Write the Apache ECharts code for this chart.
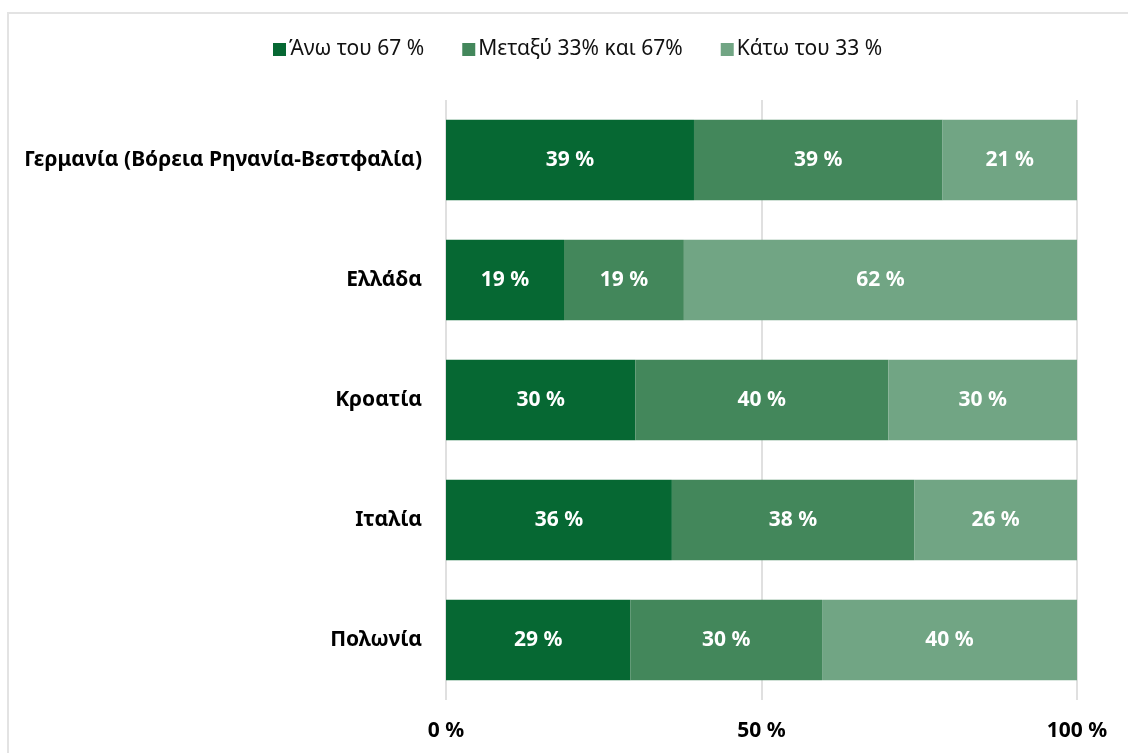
<!DOCTYPE html>
<html>
<head>
<meta charset="utf-8">
<script src="https://cdn.jsdelivr.net/npm/echarts@6/dist/echarts.min.js"></script>
<style>
  html, body { margin: 0; padding: 0; background: #fff; overflow: hidden; }
  .frame {
    position: absolute; left: 7px; top: 12px; width: 1200px; height: 800px;
    border: 2px solid #e3e3e3; box-sizing: border-box;
  }
  #chart { position: absolute; left: 0; top: 0; width: 1128px; height: 753px; }
</style>
</head>
<body>
<div class="frame"></div>
<div id="chart"></div>
<script>
// 国家 / 地区
const categories = ['Γερμανία (Βόρεια Ρηνανία-Βεστφαλία)', 'Ελλάδα', 'Κροατία', 'Ιταλία', 'Πολωνία']
const seriesNames = ['Άνω του 67 %', 'Μεταξύ 33% και 67%', 'Κάτω του 33 %']
const above67 = [39.3, 18.7, 30.0, 35.8, 29.2]
const between = [39.4, 19.0, 40.1, 38.4, 30.4]
const below33 = [21.3, 62.3, 29.9, 25.8, 40.4]
const colors = ['#066833', '#43875b', '#71a584']

const font = '"Noto Sans", "Open Sans", sans-serif'

const makeSeries = (name, data, color) => ({
  name: name,
  type: 'bar',
  stack: 'total',
  barCategoryGap: '33%',
  itemStyle: { color: color },
  label: {
    show: true,
    position: 'inside',
    color: '#fff',
    fontFamily: font,
    fontWeight: 'bold',
    fontSize: 21,
    formatter: (p) => Math.round(p.value) + ' %'
  },
  data: data
})

const chart = echarts.init(document.getElementById('chart'))
chart.setOption({
  backgroundColor: 'transparent',
  animation: false,
  color: colors,
  legend: {
    top: 34,
    left: 268,
    itemWidth: 13,
    itemHeight: 13,
    itemGap: 38,
    icon: 'rect',
    textStyle: { fontFamily: font, fontSize: 21, color: '#111', padding: [0, 0, 0, -2] },
    data: seriesNames
  },
  grid: { left: 446, right: 51, top: 100, bottom: 53 },
  xAxis: {
    type: 'value',
    min: 0,
    max: 100,
    interval: 50,
    axisLine: { show: false },
    axisTick: { show: false },
    splitLine: { lineStyle: { color: '#e0e0e0', width: 2 } },
    axisLabel: {
      margin: 21,
      color: '#000',
      fontFamily: font,
      fontWeight: 'bold',
      fontSize: 21,
      formatter: (v) => v + ' %'
    }
  },
  yAxis: {
    type: 'category',
    inverse: true,
    data: categories,
    axisLine: { show: false },
    axisTick: { show: false },
    axisLabel: {
      margin: 24,
      color: '#000',
      fontFamily: font,
      fontWeight: 'bold',
      fontSize: 21
    }
  },
  series: [
    makeSeries(seriesNames[0], above67, colors[0]),
    makeSeries(seriesNames[1], between, colors[1]),
    makeSeries(seriesNames[2], below33, colors[2])
  ]
})
</script>
</body>
</html>
